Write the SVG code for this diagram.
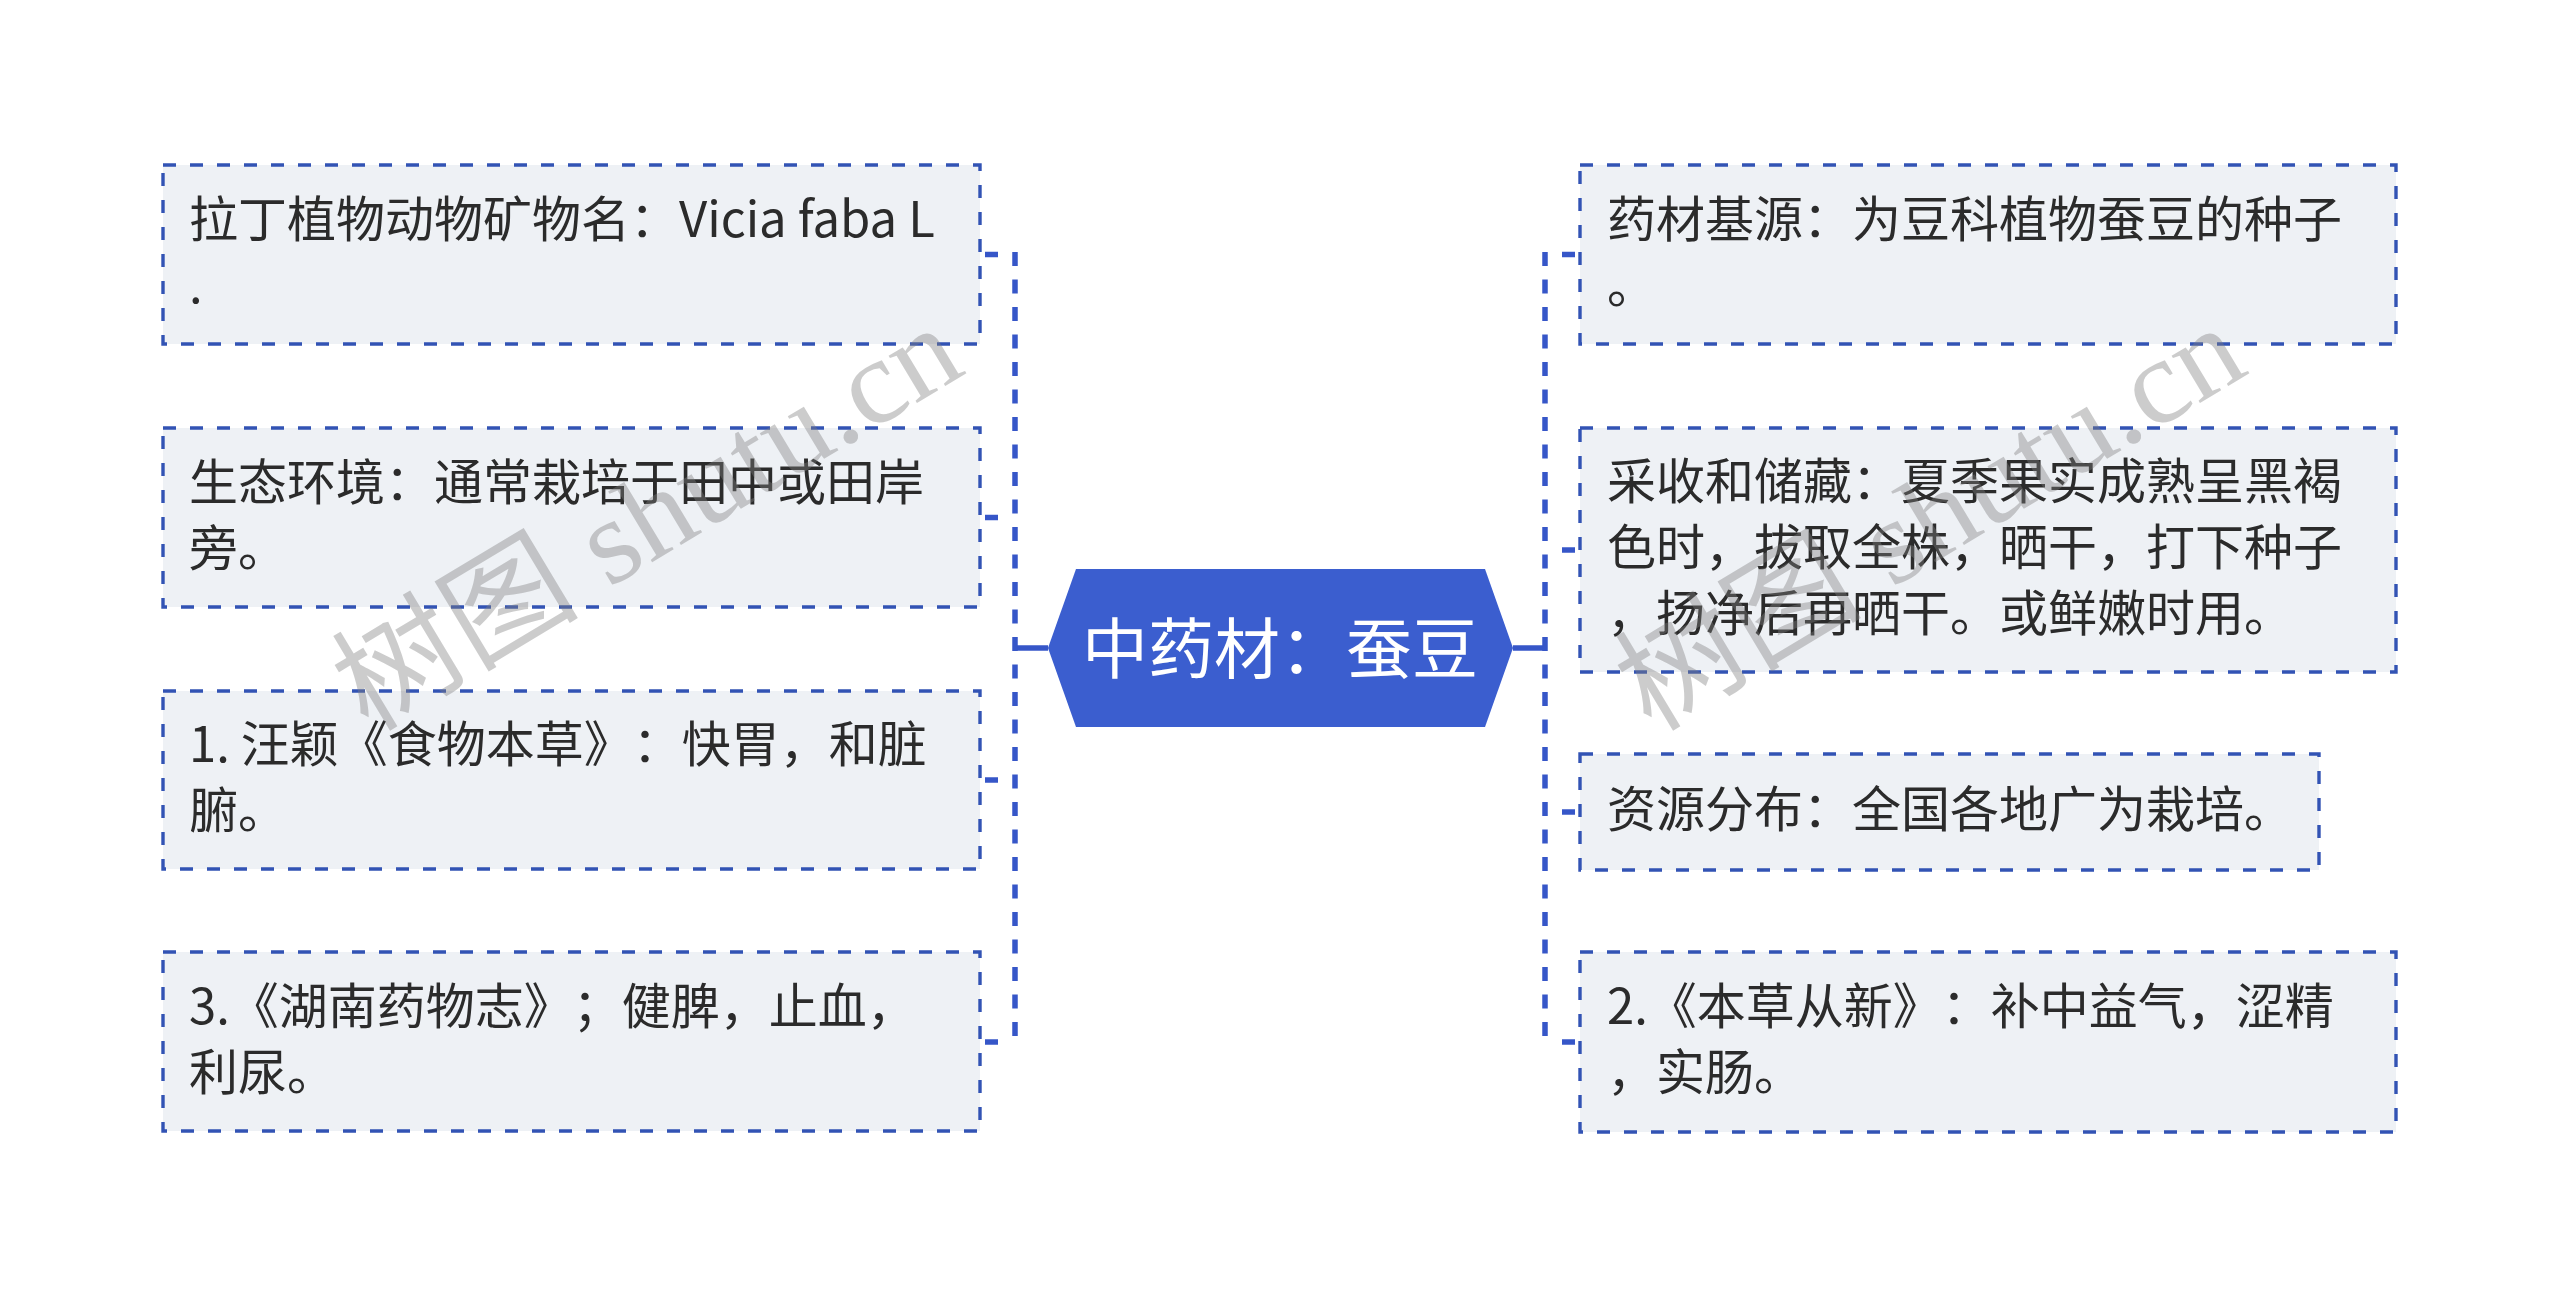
<svg xmlns="http://www.w3.org/2000/svg" width="2560" height="1297" viewBox="0 0 2560 1297">
<style>
.box{fill:#eef1f5;stroke:#3253b4;stroke-width:3.4;stroke-dasharray:13 14}
.t{font-family:"Noto Sans CJK SC","Noto Sans",sans-serif;font-size:49px;fill:#2b2b2b;text-spacing-trim:space-all;font-feature-settings:"chws" 0,"halt" 0}
.ct{font-family:"Noto Sans CJK SC","Noto Sans",sans-serif;font-size:66px;fill:#ffffff;text-spacing-trim:space-all;font-feature-settings:"chws" 0}
.vl{fill:none;stroke:#3656c8;stroke-width:5.5;stroke-dasharray:14 13.5}
.stub{fill:none;stroke:#3656c8;stroke-width:5.5;stroke-dasharray:13 100;stroke-dashoffset:-5}
.sl{fill:none;stroke:#3656c8;stroke-width:5.5}
.wm{font-family:"Liberation Serif","Noto Sans CJK SC",serif;font-size:120px;fill:#808080;fill-opacity:0.4}
</style>
<rect width="2560" height="1297" fill="#ffffff"/>
<g id="connectors">
<path class="sl" d="M1048,648 H1015"/>
<path class="vl" d="M1015,252 V1044"/>
<path class="stub" d="M980,254.5 H1015"/>
<path class="stub" d="M980,517.5 H1015"/>
<path class="stub" d="M980,780 H1015"/>
<path class="stub" d="M980,1042 H1015"/>
<path class="sl" d="M1513,648 H1545"/>
<path class="vl" d="M1545,252 V1044"/>
<path class="stub" d="M1580,254.5 H1545"/>
<path class="stub" d="M1580,550 H1545"/>
<path class="stub" d="M1580,812 H1545"/>
<path class="stub" d="M1580,1042 H1545"/>
</g>
<g id="center">
<polygon points="1076,569 1485,569 1513,648 1485,727 1076,727 1048,648" fill="#3b5ecf"/>
<text class="ct" x="1280" y="673" text-anchor="middle">中药材：蚕豆</text>
</g>
<g id="left1">
<rect class="box" x="163" y="165" width="817" height="179"/>
<text class="t" x="189" y="237">拉丁植物动物矿物名：Vicia faba L</text>
<text class="t" x="189" y="303">.</text>
</g>
<g id="left2">
<rect class="box" x="163" y="428" width="817" height="179"/>
<text class="t" x="189" y="500">生态环境：通常栽培于田中或田岸</text>
<text class="t" x="189" y="566">旁。</text>
</g>
<g id="left3">
<rect class="box" x="163" y="691" width="817" height="178"/>
<text class="t" x="189" y="762">1. 汪颖《食物本草》：快胃，和脏</text>
<text class="t" x="189" y="828">腑。</text>
</g>
<g id="left4">
<rect class="box" x="163" y="952" width="817" height="179"/>
<text class="t" x="189" y="1024">3.《湖南药物志》；健脾，止血，</text>
<text class="t" x="189" y="1090">利尿。</text>
</g>
<g id="right1">
<rect class="box" x="1580" y="165" width="816" height="179"/>
<text class="t" x="1607" y="237">药材基源：为豆科植物蚕豆的种子</text>
<text class="t" x="1607" y="303">。</text>
</g>
<g id="right2">
<rect class="box" x="1580" y="428" width="816" height="244"/>
<text class="t" x="1607" y="499">采收和储藏：夏季果实成熟呈黑褐</text>
<text class="t" x="1607" y="565">色时，拔取全株，晒干，打下种子</text>
<text class="t" x="1607" y="631">，扬净后再晒干。或鲜嫩时用。</text>
</g>
<g id="right3">
<rect class="box" x="1580" y="754" width="739" height="116"/>
<text class="t" x="1607" y="827">资源分布：全国各地广为栽培。</text>
</g>
<g id="right4">
<rect class="box" x="1580" y="952" width="816" height="180"/>
<text class="t" x="1607" y="1024">2.《本草从新》：补中益气，涩精</text>
<text class="t" x="1607" y="1090">，实肠。</text>
</g>
<g id="watermarks">
<text class="wm" x="647" y="518" text-anchor="middle" dominant-baseline="central" textLength="700" lengthAdjust="spacingAndGlyphs" transform="rotate(-31 647 518)">树图 shutu.cn</text>
<text class="wm" x="1930" y="518" text-anchor="middle" dominant-baseline="central" textLength="700" lengthAdjust="spacingAndGlyphs" transform="rotate(-31 1930 518)">树图 shutu.cn</text>
</g>
</svg>
